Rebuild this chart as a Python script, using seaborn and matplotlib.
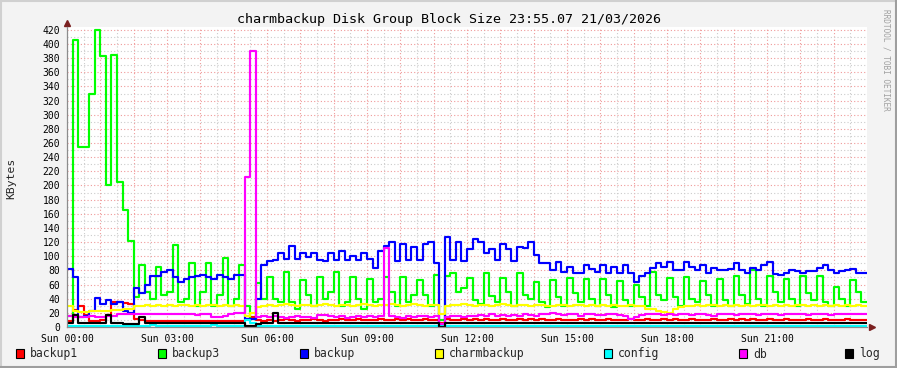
import numpy as np
import pandas as pd
import matplotlib
matplotlib.use("Agg")
import matplotlib.pyplot as plt
import seaborn as sns
from matplotlib.patches import Rectangle
from matplotlib.lines import Line2D

# ---------------- data (10-minute steps, 6 values per hour, 00:00 -> 24:00) -------------
names = ["backup1", "backup3", "backup", "charmbackup", "config", "db", "log"]
colors = ["#FF0000", "#00FF00", "#0000FF", "#FFFF00", "#00FFFF", "#FF00FF", "#000000"]

backup1 = [
    8, 24, 30, 17, 8, 8,   10, 17, 35, 35, 34, 33,   12, 10, 8, 8, 9, 8,
    8, 9, 8, 8, 9, 8,      8, 8, 9, 8, 8, 9,         8, 8, 12, 14, 10, 9,
    10, 9, 10, 11, 10, 9,  10, 10, 11, 10, 9, 10,    10, 11, 10, 10, 11, 10,
    10, 10, 11, 10, 10, 11, 10, 11, 10, 10, 11, 10,  10, 6, 11, 10, 10, 11,
    10, 11, 10, 11, 10, 10, 11, 10, 10, 11, 10, 11,  10, 11, 10, 10, 11, 10,
    10, 10, 11, 10, 11, 10, 10, 11, 10, 10, 10, 11,  10, 10, 11, 10, 10, 11,
    10, 11, 10, 10, 11, 10, 10, 10, 11, 10, 10, 11,  10, 11, 10, 11, 10, 10,
    11, 10, 10, 11, 10, 10, 10, 11, 10, 10, 11, 10,  10, 10, 11, 10, 10, 10,
]
backup3 = [
    15, 405, 255, 255, 330, 420,  383, 200, 385, 205, 165, 122,  42, 88, 50, 40, 85, 45,
    50, 116, 35, 40, 90, 30,      50, 90, 30, 45, 98, 30,        40, 88, 30, 12, 62, 40,
    71, 40, 35, 78, 35, 25,       66, 45, 30, 70, 40, 50,        78, 30, 35, 71, 40, 25,
    68, 35, 40, 71, 50, 30,       70, 35, 45, 66, 45, 30,        74, 10, 72, 77, 50, 55,
    69, 38, 32, 76, 44, 35,       69, 50, 30, 76, 45, 40,        64, 35, 28, 67, 42, 30,
    69, 48, 35, 68, 40, 30,       68, 45, 28, 65, 38, 30,        60, 42, 30, 78, 45, 38,
    69, 42, 30, 70, 40, 35,       65, 45, 30, 68, 38, 30,        72, 45, 32, 80, 40, 30,
    72, 50, 35, 68, 40, 30,       72, 48, 38, 72, 35, 30,        56, 40, 30, 67, 50, 35,
]
backup = [
    82, 70, 14, 16, 22, 41,       32, 38, 32, 36, 22, 20,        55, 48, 60, 72, 72, 78,
    80, 70, 64, 68, 70, 72,       73, 70, 68, 73, 70, 68,        73, 73, 12, 12, 40, 88,
    93, 95, 104, 96, 115, 96,     104, 99, 104, 95, 93, 105,     95, 107, 95, 100, 95, 104,
    96, 83, 108, 115, 120, 93,    117, 95, 113, 95, 117, 120,    91, 0, 127, 95, 120, 93,
    110, 124, 120, 105, 110, 95,  118, 110, 93, 113, 112, 120,   102, 90, 91, 80, 92, 78,
    85, 76, 76, 87, 82, 78,       87, 77, 85, 77, 87, 77,        63, 72, 77, 83, 90, 85,
    92, 80, 80, 92, 85, 80,       87, 77, 83, 80, 80, 82,        90, 80, 76, 83, 80, 88,
    92, 75, 74, 77, 80, 79,       76, 79, 79, 83, 87, 80,        76, 79, 80, 82, 77, 76,
]
charmbackup = [
    30, 22, 21, 21, 22, 23,       23, 23, 24, 24, 25, 26,        29, 30, 31, 30, 31, 30,
    31, 30, 31, 31, 30, 31,       30, 31, 31, 30, 31, 30,        31, 30, 15, 20, 28, 30,
    31, 30, 31, 32, 31, 30,       31, 31, 30, 31, 32, 31,        30, 31, 31, 30, 31, 32,
    31, 30, 31, 31, 32, 31,       30, 31, 32, 31, 30, 31,        31, 18, 30, 31, 31, 32,
    31, 30, 31, 31, 30, 31,       32, 31, 30, 31, 31, 30,        31, 31, 30, 30, 31, 31,
    30, 31, 31, 30, 31, 30,       31, 30, 31, 30, 30, 31,        30, 29, 26, 25, 22, 21,
    20, 26, 28, 30, 30, 31,       30, 31, 31, 30, 31, 30,        31, 30, 31, 30, 31, 31,
    30, 31, 30, 31, 30, 31,       31, 30, 31, 30, 31, 30,        31, 30, 31, 30, 31, 30,
]
config = [
    2, 2, 2, 2, 2, 2,   2, 2, 2, 2, 2, 2,   2, 2, 2, 3, 2, 2,
    2, 2, 2, 2, 2, 2,   2, 2, 3, 2, 2, 2,   2, 2, 10, 6, 2, 2,
    2, 2, 2, 2, 2, 2,   2, 2, 2, 2, 2, 2,   2, 2, 2, 2, 2, 2,
    2, 2, 2, 2, 2, 2,   2, 2, 2, 2, 2, 2,   2, 2, 2, 2, 2, 2,
    2, 2, 2, 2, 2, 2,   2, 2, 2, 2, 2, 2,   2, 2, 2, 2, 2, 2,
    2, 2, 2, 2, 2, 2,   2, 2, 2, 2, 2, 2,   2, 2, 2, 2, 2, 2,
    2, 2, 2, 2, 2, 2,   2, 2, 2, 2, 2, 2,   2, 2, 2, 2, 2, 2,
    2, 2, 2, 2, 2, 2,   2, 2, 2, 2, 2, 2,   2, 2, 2, 2, 2, 2,
]
db = [
    15, 14, 14, 14, 15, 14,       14, 15, 16, 18, 18, 18,        19, 19, 18, 18, 18, 18,
    18, 19, 18, 18, 18, 17,       18, 18, 14, 14, 15, 18,        20, 20, 212, 390, 14, 15,
    14, 15, 14, 13, 14, 15,       14, 14, 13, 17, 17, 15,        14, 15, 13, 14, 16, 14,
    15, 14, 15, 112, 15, 14,      13, 15, 14, 16, 15, 14,        15, 4, 14, 16, 15, 14,
    15, 16, 17, 16, 18, 16,       17, 15, 17, 16, 18, 17,        16, 19, 18, 20, 18, 17,
    19, 18, 16, 18, 19, 17,       17, 18, 19, 17, 16, 12,        14, 17, 18, 19, 18, 17,
    18, 17, 19, 18, 17, 19,       18, 17, 16, 18, 19, 18,        17, 18, 19, 18, 17, 18,
    19, 18, 17, 18, 19, 18,       18, 17, 18, 19, 18, 17,        18, 19, 18, 18, 19, 18,
]
log = [
    5, 17, 5, 5, 5, 5,   5, 17, 5, 5, 4, 4,   4, 14, 5, 5, 5, 5,
    5, 5, 5, 5, 5, 5,    5, 5, 5, 5, 5, 5,    5, 5, 2, 2, 4, 5,
    5, 20, 5, 5, 5, 5,   5, 5, 6, 5, 5, 5,    5, 5, 5, 5, 5, 5,
    5, 5, 5, 5, 5, 5,    5, 5, 5, 5, 5, 5,    5, 0, 5, 5, 5, 5,
    5, 5, 5, 5, 5, 5,    5, 5, 5, 5, 5, 5,    5, 5, 5, 5, 5, 5,
    5, 5, 5, 5, 5, 5,    5, 5, 5, 5, 5, 5,    5, 5, 5, 5, 5, 5,
    5, 5, 5, 5, 5, 5,    5, 5, 5, 5, 5, 5,    5, 5, 5, 5, 5, 5,
    5, 5, 5, 5, 5, 5,    5, 5, 5, 5, 5, 5,    5, 5, 5, 5, 5, 5,
]

x_tick_hours = [0, 3, 6, 9, 12, 15, 18, 21]
x_tick_labels = ["Sun 00:00", "Sun 03:00", "Sun 06:00", "Sun 09:00",
                 "Sun 12:00", "Sun 15:00", "Sun 18:00", "Sun 21:00"]
title = "charmbackup Disk Group Block Size 23:55.07 21/03/2026"
y_label = "KBytes"

series = [backup1, backup3, backup, charmbackup, config, db, log]
for s in series:
    assert len(s) == 144

frames = []
for name, vals in zip(names, series):
    v = list(vals) + [vals[-1]]
    frames.append(pd.DataFrame({"hour": np.arange(len(v)) / 6.0, "kb": v, "series": name}))
df = pd.concat(frames, ignore_index=True)

# ---------------- figure ----------------
sns.set_theme(style="white")
plt.rcParams["font.family"] = ["DejaVu Sans Mono"]

W, H = 897, 368
BG = "#F3F3F3"
fig = plt.figure(figsize=(W / 100, H / 100), dpi=100, facecolor=BG)
ax = fig.add_axes([67 / W, 1 - 327 / H, 800 / W, 300 / H], facecolor="white")

ax.set_xlim(0, 24)
ax.set_ylim(0, 424)

# grid
ax.set_xticks(np.arange(0, 24, 1))
ax.set_xticklabels([x_tick_labels[x_tick_hours.index(h)] if h in x_tick_hours else ""
                    for h in range(24)])
ax.set_xticks(np.arange(0.5, 24, 1), minor=True)
ax.set_yticks(np.arange(0, 421, 20))
ax.set_yticklabels([str(v) for v in range(0, 421, 20)])
ax.set_yticks(np.arange(10, 421, 20), minor=True)
ax.grid(which="major", color="#F09A9A", ls=(0, (1, 2)), lw=0.8)
ax.grid(which="minor", color="#CCCCCC", ls=(0, (1, 2)), lw=0.8)
ax.set_axisbelow(True)

sns.lineplot(data=df, x="hour", y="kb", hue="series", hue_order=names,
             palette=colors, drawstyle="steps-post", lw=1.55, estimator=None,
             sort=False, legend=False, ax=ax)

ax.set_xlabel("")
ax.set_ylabel("")
ax.tick_params(axis="both", which="major", labelsize=7, length=2, width=0.7,
               color="#808080", pad=3, labelcolor="black")
ax.tick_params(axis="both", which="minor", length=0)
for side in ["top", "right"]:
    ax.spines[side].set_visible(False)
for side in ["left", "bottom"]:
    ax.spines[side].set_color("#8C8C8C")
    ax.spines[side].set_linewidth(0.9)

# axis arrows
ax.plot([1.006], [0], marker=">", ms=4, color="#7A1F1F", transform=ax.transAxes, clip_on=False)
ax.plot([0], [1.013], marker="^", ms=4, color="#7A1F1F", transform=ax.transAxes, clip_on=False)

# texts
fig.text(0.5, 1 - 19 / H, title, ha="center", va="center", fontsize=9.6, color="black")
fig.text(11 / W, 1 - 178 / H, y_label, rotation=90, ha="center", va="center", fontsize=8.2)
fig.text(886 / W, 1 - 60 / H, "RRDTOOL / TOBI OETIKER", rotation=270, ha="center",
         va="center", fontsize=5.6, color="#A0A0A0")

# legend
box_x = [15.5, 157.5, 299.5, 434.5, 603.5, 739, 845]
for bx, name, col in zip(box_x, names, colors):
    fig.add_artist(Rectangle((bx / W, 1 - 358 / H), 8 / W, 9 / H, transform=fig.transFigure,
                             facecolor=col, edgecolor="black", lw=0.8))
    fig.text((bx + 14.5) / W, 1 - 354 / H, name, ha="left", va="center", fontsize=8.3)

# border shading
fig.add_artist(Line2D([0, 1], [1 - 0.5 / H, 1 - 0.5 / H], transform=fig.transFigure, color="#D0D0D0", lw=1.5))
fig.add_artist(Line2D([0.5 / W, 0.5 / W], [0, 1], transform=fig.transFigure, color="#D0D0D0", lw=1.5))
fig.add_artist(Line2D([0, 1], [1 / H, 1 / H], transform=fig.transFigure, color="#9E9E9E", lw=1.5))
fig.add_artist(Line2D([1 - 1 / W, 1 - 1 / W], [0, 1], transform=fig.transFigure, color="#9E9E9E", lw=1.5))

fig.savefig("out.png", dpi=100, facecolor=BG)
